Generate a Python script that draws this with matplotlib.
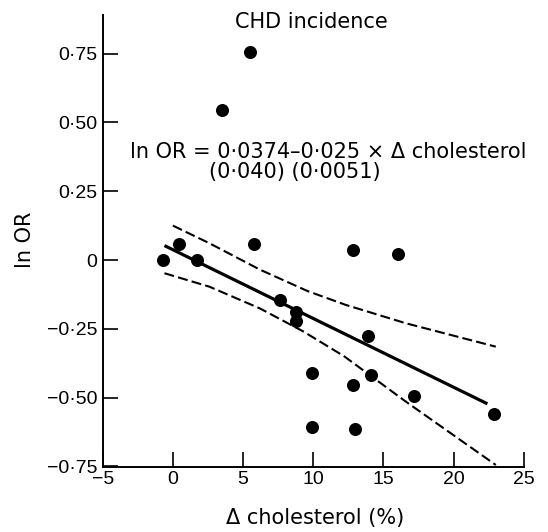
import matplotlib
matplotlib.use('Agg')
import matplotlib.pyplot as plt

# data
chol = [-0.7, 0.4, 1.7, 3.5, 5.5, 5.8, 7.6, 8.8, 8.8, 9.9, 9.9,
        12.8, 12.8, 13.0, 13.9, 14.1, 16.0, 17.2, 22.9]
ln_or = [0.0, 0.06, 0.0, 0.545, 0.757, 0.057, -0.145, -0.19, -0.22, -0.41, -0.606,
         0.036, -0.454, -0.614, -0.276, -0.418, 0.022, -0.493, -0.56]

fit_x = [-0.5, 22.3]
intercept = 0.0374
slope = -0.025

upper_x = [0.0, 2.6, 6.2, 9.6, 12.3, 16.6, 23.0]
upper_y = [0.125, 0.061, -0.035, -0.113, -0.163, -0.230, -0.315]
lower_x = [-0.6, 2.6, 6.2, 9.3, 12.2, 16.6, 23.0]
lower_y = [-0.048, -0.097, -0.176, -0.26, -0.35, -0.515, -0.745]

xticks = [-5, 0, 5, 10, 15, 20, 25]
yticks = [-0.75, -0.5, -0.25, 0, 0.25, 0.5, 0.75]
ytick_labels = ['\u22120\u00b775', '\u22120\u00b750', '\u22120\u00b725', '0',
                '0\u00b725', '0\u00b750', '0\u00b775']
xtick_labels = ['\u22125', '0', '5', '10', '15', '20', '25']

fig = plt.figure(figsize=(5.48, 5.32), dpi=100)
ax = fig.add_axes([0.1874, 0.1216, 0.7686, 0.8502])

ax.scatter(chol, ln_or, s=70, color='black', zorder=3)
ax.plot(fit_x, [intercept + slope * x for x in fit_x], color='black', lw=2.3)
ax.plot(upper_x, upper_y, color='black', lw=1.5, dashes=(4.8, 2.0))
ax.plot(lower_x, lower_y, color='black', lw=1.5, dashes=(4.8, 2.0))

ax.set_xlim(-5, 25)
ax.set_ylim(-0.7535, 0.8906)
ax.spines['top'].set_visible(False)
ax.spines['right'].set_visible(False)
for sp in ['left', 'bottom']:
    ax.spines[sp].set_linewidth(1.4)

ax.set_xticks(xticks)
ax.set_xticklabels(xtick_labels, family='Liberation Sans', fontsize=14)
ax.set_yticks(yticks)
ax.set_yticklabels(ytick_labels, family='Liberation Sans', fontsize=14)
ax.tick_params(direction='in', length=10.5, width=1.2)
ax.tick_params(axis='x', pad=3)
ax.tick_params(axis='y', pad=4)

ax.text(9.83, 0.866, 'CHD incidence', ha='center', va='center', fontsize=15)
ax.text(11.1, 0.393, 'ln OR = 0\u00b70374\u20130\u00b7025 \u00d7 \u0394 cholesterol',
        ha='center', va='center', fontsize=15)
ax.text(8.65, 0.32, '(0\u00b7040) (0\u00b70051)', ha='center', va='center', fontsize=15)

fig.text(25 / 548, 1 - 240 / 532, 'ln OR', rotation=90, ha='center', va='center', fontsize=15)
fig.text(315 / 548, 1 - 518 / 532, '\u0394 cholesterol (%)', ha='center', va='center', fontsize=15)

fig.savefig('out.png', dpi=100)
